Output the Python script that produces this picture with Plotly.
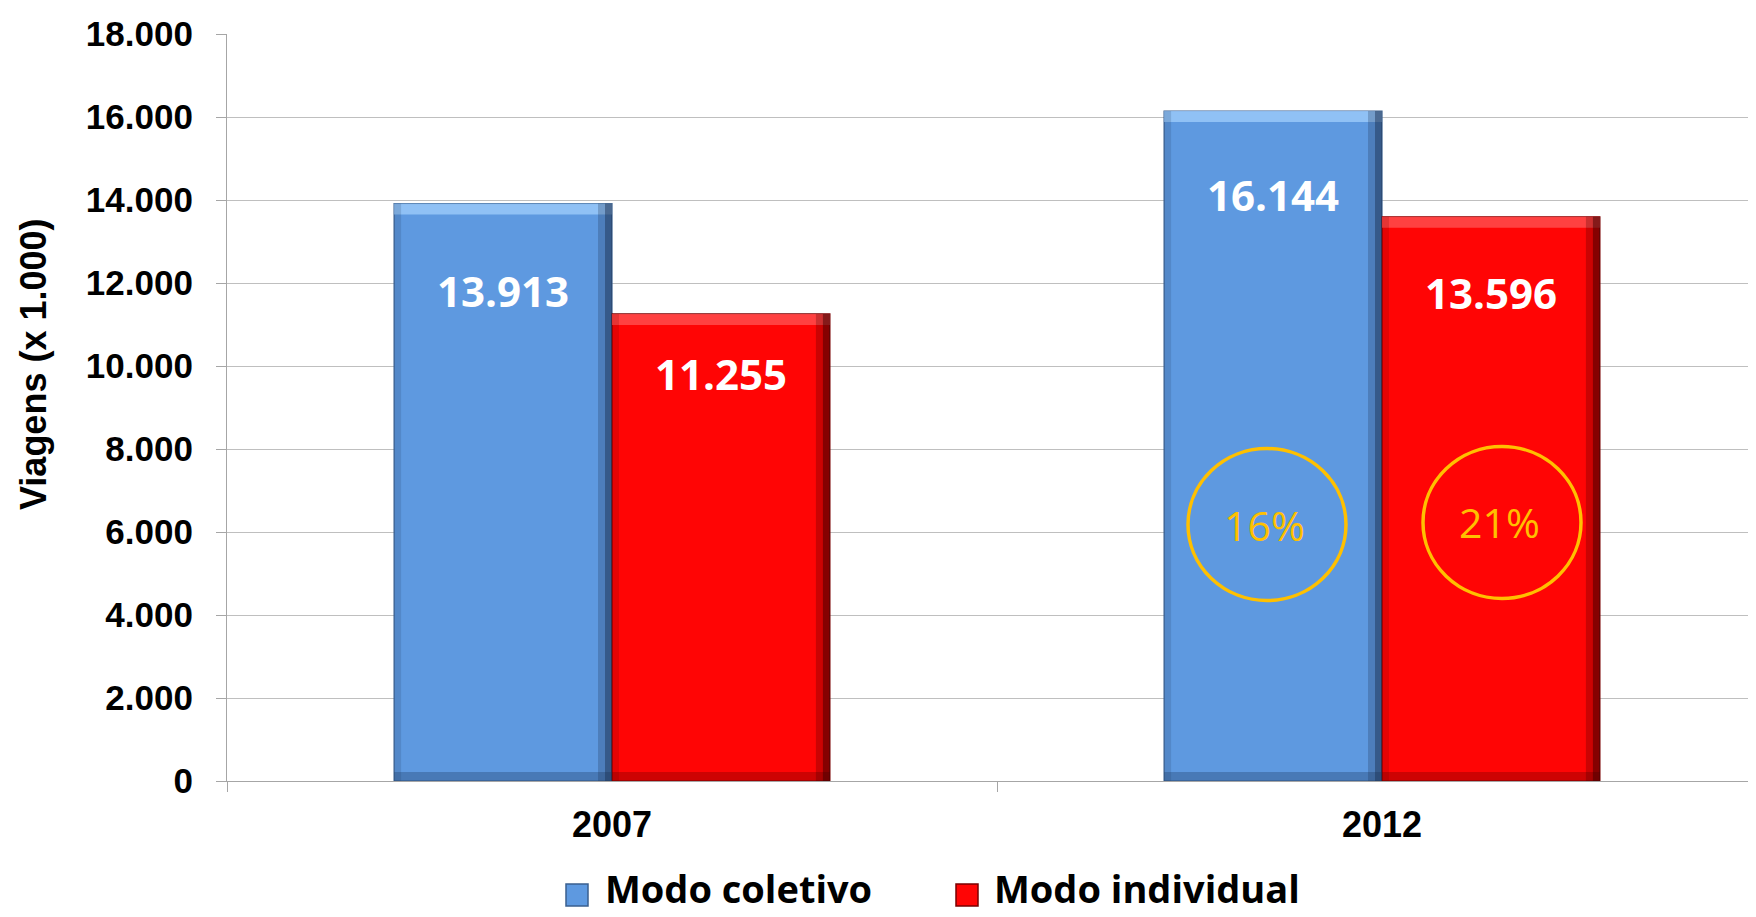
import plotly.graph_objects as go

# ---------------- data ----------------
years = ["2007", "2012"]
coletivo = [13913, 16144]
individual = [11255, 13596]
coletivo_labels = ["13.913", "16.144"]
individual_labels = ["11.255", "13.596"]
growth_labels = ["16%", "21%"]
ytick_vals = [0, 2000, 4000, 6000, 8000, 10000, 12000, 14000, 16000, 18000]
ytick_text = ["0", "2.000", "4.000", "6.000", "8.000", "10.000", "12.000", "14.000", "16.000", "18.000"]

# ---------------- style ----------------
OFF = 8  # default page body margin
W, H = 1756 - OFF, 917 - OFF
PLOT_L, PLOT_T, PLOT_B = 227, 34, 781  # window pixel positions of plot area
L, T = PLOT_L - OFF, PLOT_T - OFF
R = 0
B = H - T - (PLOT_B - PLOT_T)
PW, PH = W - L - R, PLOT_B - PLOT_T
BLUE = "#5E99E0"
BLUE_EDGE = "#3A5F8E"
RED = "#FF0505"
RED_EDGE = "#7A0000"
GOLD = "#FFC000"
BARGAP = 0.434
BAR_W = (1 - BARGAP) / 2
label_drop_px_col = [87, 83]
label_drop_px_ind = [60, 76]


def px_x(p):
    return (p - PLOT_L) / PW


def px_y(p):
    return (PLOT_B - p) / PH


fig = go.Figure()
fig.add_trace(go.Bar(x=years, y=coletivo, name="Modo coletivo",
                     marker=dict(color=BLUE, line=dict(color=BLUE_EDGE, width=1.2)),
                     showlegend=False))
fig.add_trace(go.Bar(x=years, y=individual, name="Modo individual",
                     marker=dict(color=RED, line=dict(color=RED_EDGE, width=1.2)),
                     showlegend=False))

annotations = []
shapes = []


def bevel(x_left, x_right, top, light, dark, side_dark):
    # top highlight
    shapes.append(dict(type="rect", xref="x", yref="y", ysizemode="pixel", yanchor=top,
                       x0=x_left, x1=x_right, y0=-11, y1=0, fillcolor=light,
                       opacity=0.8, line=dict(width=0), layer="above"))
    # bottom shadow
    shapes.append(dict(type="rect", xref="x", yref="y", ysizemode="pixel", yanchor=0,
                       x0=x_left, x1=x_right, y0=0, y1=9, fillcolor=dark,
                       opacity=0.35, line=dict(width=0), layer="above"))
    # right shadow (two steps for a soft gradient)
    for wpx, op in ((14, 0.25), (7, 0.45)):
        shapes.append(dict(type="rect", xref="x", yref="y", xsizemode="pixel", xanchor=x_right,
                           x0=-wpx, x1=0, y0=0, y1=top, fillcolor=side_dark,
                           opacity=op, line=dict(width=0), layer="above"))
    # left slight shadow
    shapes.append(dict(type="rect", xref="x", yref="y", xsizemode="pixel", xanchor=x_left,
                       x0=0, x1=7, y0=0, y1=top, fillcolor=dark,
                       opacity=0.18, line=dict(width=0), layer="above"))


for i in range(len(years)):
    bevel(i - BAR_W, i, coletivo[i], "#9CCBFA", "#1F3F66", "#1A2F4D")
    bevel(i, i + BAR_W, individual[i], "#FF5050", "#700000", "#300000")

label_font = dict(family="Open Sans", size=42, color="white")
for i in range(len(years)):
    annotations.append(dict(x=i - BAR_W / 2, y=coletivo[i], xref="x", yref="y",
                            text="<b>%s</b>" % coletivo_labels[i], showarrow=False,
                            yshift=-label_drop_px_col[i], font=label_font,
                            xanchor="center", yanchor="middle"))
    annotations.append(dict(x=i + BAR_W / 2, y=individual[i], xref="x", yref="y",
                            text="<b>%s</b>" % individual_labels[i], showarrow=False,
                            yshift=-label_drop_px_ind[i], font=label_font,
                            xanchor="center", yanchor="middle"))

# growth circles on 2012
circle_dx = [-115, 120]
circle_y = [6180, 6230]
for k in range(2):
    shapes.append(dict(type="circle", xref="x", yref="y",
                       xsizemode="pixel", ysizemode="pixel",
                       xanchor=1, yanchor=circle_y[k],
                       x0=circle_dx[k] - 79, x1=circle_dx[k] + 79,
                       y0=-76, y1=76, layer="above",
                       line=dict(color=GOLD, width=3.5)))
    annotations.append(dict(x=1, y=circle_y[k], xref="x", yref="y",
                            xshift=circle_dx[k] - 3, text=growth_labels[k], showarrow=False,
                            font=dict(family="Open Sans", size=41, color=GOLD),
                            xanchor="center", yanchor="middle"))

# y-axis title
annotations.append(dict(x=px_x(33), y=px_y(364), xref="paper", yref="paper",
                        text="<b>Viagens (x 1.000)</b>", textangle=-90, showarrow=False,
                        font=dict(family="Liberation Sans", size=36, color="black"),
                        xanchor="center", yanchor="middle"))

# custom legend
legend_items = [("Modo coletivo", BLUE, BLUE_EDGE, 566, 603),
                ("Modo individual", RED, RED_EDGE, 956, 992)]
for name, col, edge, sx, tx in legend_items:
    shapes.append(dict(type="rect", xref="paper", yref="paper",
                       x0=px_x(sx), x1=px_x(sx + 22), y0=px_y(906), y1=px_y(884),
                       fillcolor=col, line=dict(color=edge, width=1.5)))
    annotations.append(dict(x=px_x(tx), y=px_y(888), xref="paper", yref="paper",
                            text="<b>%s</b>" % name, showarrow=False,
                            font=dict(family="Open Sans", size=38, color="black"),
                            xanchor="left", yanchor="middle"))

fig.update_layout(
    width=W, height=H,
    margin=dict(l=L, r=R, t=T, b=B, autoexpand=False),
    paper_bgcolor="white", plot_bgcolor="white",
    barmode="group", bargap=BARGAP, bargroupgap=0,
    annotations=annotations, shapes=shapes,
    showlegend=False,
)
fig.update_xaxes(type="category", range=[-0.5, -0.5 + PW / 770.0],
                 showgrid=False, showline=True, linecolor="#A6A6A6", linewidth=1.2,
                 ticks="outside", tickson="boundaries", ticklen=10, tickcolor="#A6A6A6",
                 tickfont=dict(family="Liberation Sans", size=36, color="black", weight="bold"),
                 ticklabelstandoff=12, zeroline=False)
fig.update_yaxes(range=[0, 18000], tickvals=ytick_vals, ticktext=ytick_text,
                 showgrid=True, gridcolor="#BFBFBF", gridwidth=1,
                 showline=True, linecolor="#A6A6A6", linewidth=1.2,
                 ticks="outside", ticklen=10, tickcolor="#A6A6A6",
                 tickfont=dict(family="Liberation Sans", size=35, color="black", weight="bold"),
                 ticklabelstandoff=16, zeroline=False)

fig.write_html("out.html")
